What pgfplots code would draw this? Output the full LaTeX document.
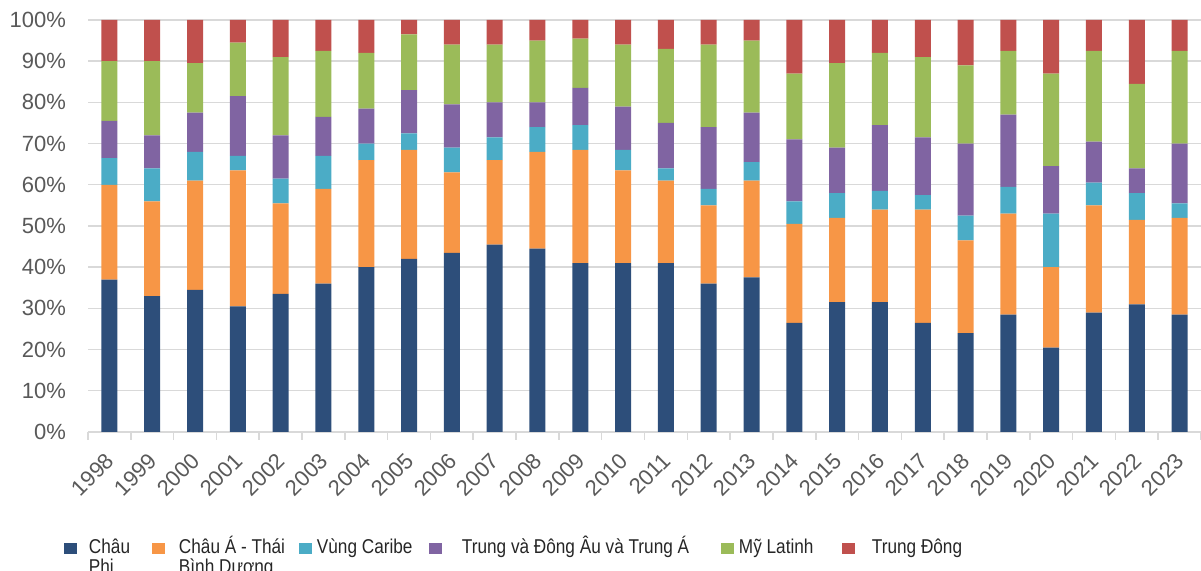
\documentclass[border=0pt]{standalone}
\usepackage{fontspec}
\setmainfont{Liberation Sans}
\newfontfamily\narrowfont[FakeStretch=0.86]{Liberation Sans}
\usepackage{pgfplots}
\pgfplotsset{compat=1.18}
\usepackage{pgfplotstable}
\definecolor{cAfr}{HTML}{2D4E7A}
\definecolor{cAsia}{HTML}{F79646}
\definecolor{cCar}{HTML}{4BACC6}
\definecolor{cEur}{HTML}{8064A2}
\definecolor{cLat}{HTML}{9BBB59}
\definecolor{cMid}{HTML}{C0504D}
\definecolor{tickgray}{HTML}{595959}
\definecolor{gridgray}{HTML}{D9D9D9}
\pgfplotstableread{
x  afr   asia  car   eur   lat   mid
0  37    23    6.5   9     14.5  10
1  33    23    8     8     18    10
2  34.5  26.5  7     9.5   12    10.5
3  30.5  33    3.5   14.5  13    5.5
4  33.5  22    6     10.5  19    9
5  36    23    8     9.5   16    7.5
6  40    26    4     8.5   13.5  8
7  42    26.5  4     10.5  13.5  3.5
8  43.5  19.5  6     10.5  14.5  6
9  45.5  20.5  5.5   8.5   14    6
10 44.5  23.5  6     6     15    5
11 41    27.5  6     9     12    4.5
12 41    22.5  5     10.5  15    6
13 41    20    3     11    18    7
14 36    19    4     15    20    6
15 37.5  23.5  4.5   12    17.5  5
16 26.5  24    5.5   15    16    13
17 31.5  20.5  6     11    20.5  10.5
18 31.5  22.5  4.5   16    17.5  8
19 26.5  27.5  3.5   14    19.5  9
20 24    22.5  6     17.5  19    11
21 28.5  24.5  6.5   17.5  15.5  7.5
22 20.5  19.5  13    11.5  22.5  13
23 29    26    5.5   10    22    7.5
24 31    20.5  6.5   6     20.5  15.5
25 28.5  23.5  3.5   14.5  22.5  7.5
}\datatable
\newcommand{\legtxt}[3]{\makebox[#1][l]{\hspace{#2}\raisebox{1.5pt}[3.5pt][0pt]{\begin{tabular}[t]{@{}l@{}}#3\end{tabular}}}}
\begin{document}
\begin{tikzpicture}[x=1pt,y=1pt]
\useasboundingbox (0,0) rectangle (600.5,285.5);
\begin{axis}[
  at={(44pt,69.5pt)}, anchor=south west,
  scale only axis, width=556.5pt, height=206pt,
  ybar stacked, bar width=8pt,
  xmin=-0.5, xmax=25.5, ymin=0, ymax=100,
  axis x line*=bottom, axis y line*=left,
  separate axis lines,
  x axis line style={draw=gridgray, line width=0.8pt},
  y axis line style={draw=none},
  xtick={0,...,25},
  xticklabels={1998,1999,2000,2001,2002,2003,2004,2005,2006,2007,2008,2009,2010,2011,2012,2013,2014,2015,2016,2017,2018,2019,2020,2021,2022,2023},
  minor xtick={-0.5,0.5,...,25.5},
  tick align=outside,
  major tick length=0pt,
  minor tick length=4pt,
  minor tick style={draw=gridgray, line width=0.8pt},
  ytick={0,10,...,100},
  yticklabel={\pgfmathprintnumber{\tick}\%},
  ymajorgrids, grid style={draw=gridgray, line width=0.7pt},
  /pgf/number format/assume math mode=true,
  yticklabel style={font=\fontsize{11}{13}\selectfont, text=tickgray, xshift=-7.5pt},
  xticklabel style={font=\fontsize{11}{12}\selectfont, text=tickgray, rotate=45, anchor=north east, inner sep=1pt, xshift=-7.5pt, yshift=-4pt},
  legend style={at={(-0.027,-0.2593)}, anchor=north west, draw=none, fill=none,
    legend columns=6, font=\narrowfont\fontsize{10}{9.2}\selectfont, text=black!85,
    /tikz/every even column/.append style={column sep=0pt},
    /tikz/every odd column/.append style={column sep=0pt},
    nodes={inner sep=0pt}},
  legend image code/.code={\fill[#1] (0pt,0pt) rectangle (6.3pt,5.5pt);},
  legend cell align=left,
]
\addplot[fill=cAfr, draw=none] table[x=x, y=afr] {\datatable};
\addplot[fill=cAsia, draw=none] table[x=x, y=asia] {\datatable};
\addplot[fill=cCar, draw=none] table[x=x, y=car] {\datatable};
\addplot[fill=cEur, draw=none] table[x=x, y=eur] {\datatable};
\addplot[fill=cLat, draw=none] table[x=x, y=lat] {\datatable};
\addplot[fill=cMid, draw=none] table[x=x, y=mid] {\datatable};
\addlegendentry{\legtxt{37.7pt}{6pt}{Châu\\Phi}}
\addlegendentry{\legtxt{67.2pt}{7pt}{Châu Á - Thái\\Bình Dương}}
\addlegendentry{\legtxt{58.7pt}{2.5pt}{Vùng Caribe}}
\addlegendentry{\legtxt{139.7pt}{10pt}{Trung và Đông Âu và Trung Á}}
\addlegendentry{\legtxt{54.2pt}{2.5pt}{Mỹ Latinh}}
\addlegendentry{\legtxt{50pt}{8.5pt}{Trung Đông}}
\end{axis}
\end{tikzpicture}
\end{document}
